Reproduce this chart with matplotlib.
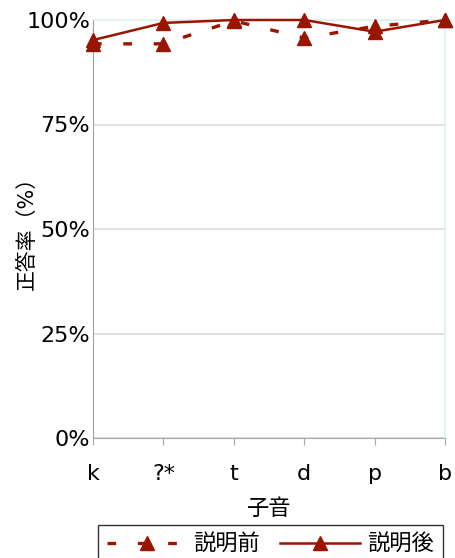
import matplotlib
matplotlib.use("Agg")
import matplotlib.pyplot as plt
from matplotlib.ticker import FuncFormatter

plt.rcParams['font.family'] = ['DejaVu Sans', 'Noto Sans CJK JP']

consonants = ['k', '?*', 't', 'd', 'p', 'b']
before = [94.3, 94.3, 99.8, 95.7, 98.5, 100.0]   # 説明前
after = [95.2, 99.3, 100.0, 100.0, 97.2, 100.0]  # 説明後
yticks = [0, 25, 50, 75, 100]

color = '#9a1500'

fig = plt.figure(figsize=(4.56, 5.58), dpi=100)
ax = fig.add_axes([93 / 456, 1 - 438 / 558, 352 / 456, 418 / 558])

x = list(range(len(consonants)))
ax.plot(x, before, color=color, lw=2.4, linestyle=(0, (2.6, 6.5)),
        marker='^', ms=10, label='説明前', zorder=3, clip_on=False)
ax.plot(x, after, color=color, lw=1.8, linestyle='-',
        marker='^', ms=10, label='説明後', zorder=4, clip_on=False)

ax.set_xlim(0, len(consonants) - 1)
ax.set_ylim(0, 100)
ax.set_xticks(x)
ax.set_xticklabels(consonants)
ax.set_yticks(yticks)
ax.yaxis.set_major_formatter(FuncFormatter(lambda v, p: f'{v:.0f}%'))

ax.grid(axis='y', color='#dadada', lw=1.2)
ax.set_axisbelow(True)
for side in ['top', 'right']:
    ax.spines[side].set_color('#ddf3f3')
    ax.spines[side].set_linewidth(1.2)
ax.spines['left'].set_color('#a0a0a0')
ax.spines['bottom'].set_color('#a8a8a8')
ax.tick_params(axis='x', direction='out', length=5, color='#a8a8a8',
               labelsize=16, pad=14)
ax.tick_params(axis='y', length=0, labelsize=16, pad=2)

fig.text(27 / 456, 1 - 228 / 558, '正答率（%）', rotation=90,
         ha='center', va='center', fontsize=15)
fig.text(269 / 456, 1 - 509 / 558, '子音', ha='center', va='center',
         fontsize=16)

leg = fig.legend(loc='upper left', bbox_to_anchor=(98 / 456, 1 - 525 / 558),
                 ncol=2, frameon=True, fancybox=False, edgecolor='black',
                 prop={'size': 16}, handlelength=3.6,
                 handletextpad=0.3, columnspacing=0.9, borderpad=0.4,
                 borderaxespad=0)
leg.get_frame().set_linewidth(1.0)

fig.savefig('out.png', dpi=100)
